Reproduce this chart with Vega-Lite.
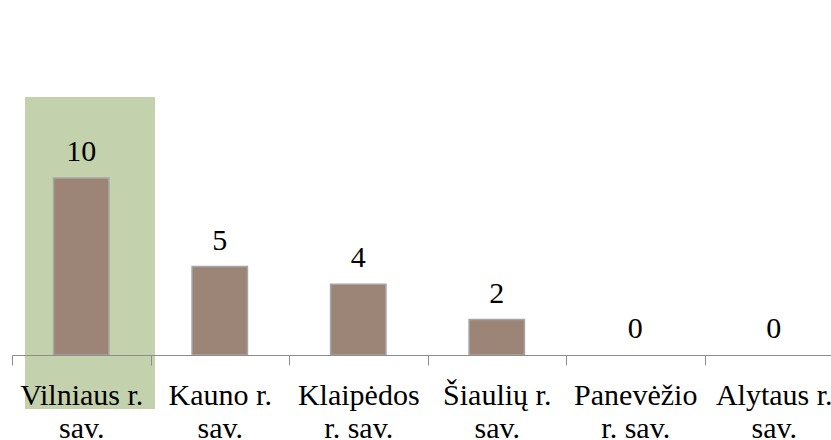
{
  "$schema": "https://vega.github.io/schema/vega-lite/v6.json",
  "autosize": "none",
  "width": 831,
  "height": 355,
  "padding": {"left": 12, "top": 0, "right": 0, "bottom": 85},
  "background": "white",
  "config": {"view": {"stroke": null}, "font": "Liberation Serif"},
  "data": {"values": [
    {"savivaldybe": "Vilniaus r. sav.", "kiekis": 10},
    {"savivaldybe": "Kauno r. sav.", "kiekis": 5},
    {"savivaldybe": "Klaipėdos r. sav.", "kiekis": 4},
    {"savivaldybe": "Šiaulių r. sav.", "kiekis": 2},
    {"savivaldybe": "Panevėžio r. sav.", "kiekis": 0},
    {"savivaldybe": "Alytaus r. sav.", "kiekis": 0}
  ]},
  "encoding": {
    "x": {
      "field": "savivaldybe", "type": "nominal", "sort": null,
      "scale": {"paddingInner": 0, "paddingOuter": 0},
      "axis": {
        "title": null, "labelAngle": 0, "tickBand": "extent",
        "domainColor": "#8c8c8c", "tickColor": "#8c8c8c", "tickSize": 10,
        "labelFont": "Liberation Serif", "labelFontSize": 30, "labelColor": "#000000",
        "labelPadding": 15, "labelLineHeight": 33, "labelLimit": 0,
        "zindex": 1,
        "labelExpr": "!datum.label ? '' : (length(split(datum.label, ' ')[0]) >= 9 ? [split(datum.label, ' ')[0], 'r. sav.'] : [replace(datum.label, ' sav.', ''), 'sav.'])"
      }
    }
  },
  "layer": [
    {
      "transform": [{"filter": "datum.savivaldybe == 'Vilniaus r. sav.'"}],
      "mark": {"type": "bar", "width": 130, "xOffset": 8.75, "color": "#c3d1ac", "clip": false},
      "encoding": {
        "y": {"datum": 14.58, "type": "quantitative", "scale": {"domain": [0, 20.06], "nice": false, "zero": false}, "axis": null},
        "y2": {"datum": -3.05}
      }
    },
    {
      "transform": [{"filter": "datum.kiekis > 0"}],
      "mark": {"type": "bar", "width": {"band": 0.4}, "color": "#9c8577", "stroke": "#a6a6a6", "strokeWidth": 1.5},
      "encoding": {
        "y": {"field": "kiekis", "type": "quantitative", "axis": null}
      }
    },
    {
      "mark": {"type": "text", "font": "Liberation Serif", "fontSize": 30, "color": "#000000", "baseline": "alphabetic", "dy": -17},
      "encoding": {
        "y": {"field": "kiekis", "type": "quantitative", "axis": null},
        "text": {"field": "kiekis", "type": "quantitative"}
      }
    }
  ]
}
